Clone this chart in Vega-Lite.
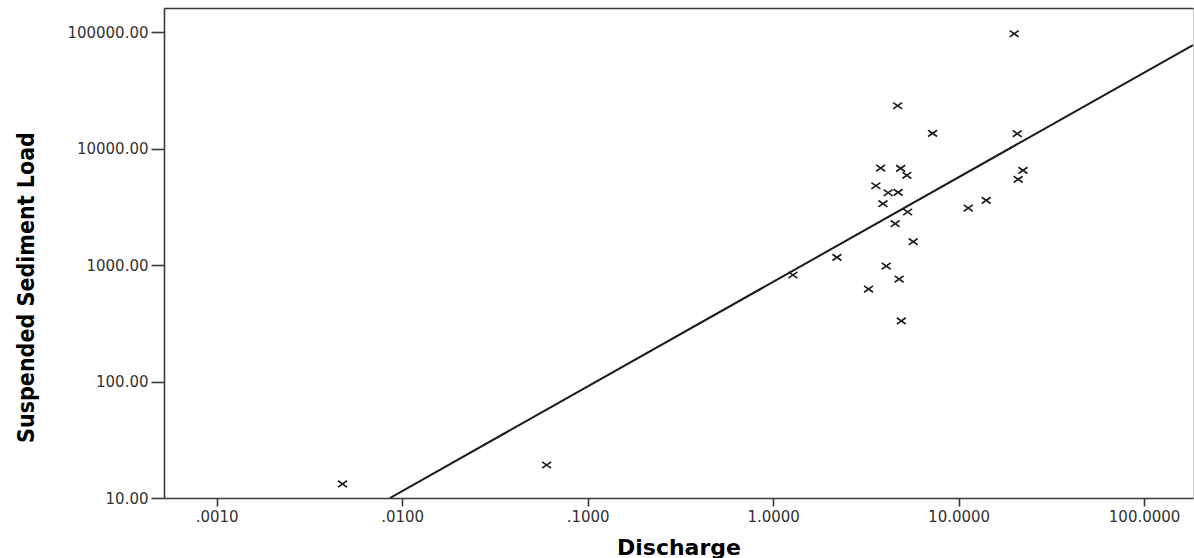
{
  "$schema": "https://vega.github.io/schema/vega-lite/v6.json",
  "width": 1029,
  "height": 490,
  "autosize": "none",
  "padding": {"left": 164, "top": 8, "right": 1, "bottom": 60},
  "background": "white",
  "config": {
    "view": {"stroke": "#c8c8c8", "strokeWidth": 1},
    "axis": {
      "grid": false,
      "domainColor": "#3a3a3a",
      "domainWidth": 1.6,
      "tickColor": "#3a3a3a",
      "tickWidth": 1.6,
      "labelFont": "DejaVu Sans",
      "labelFontSize": 15,
      "labelColor": "#333333",
      "titleColor": "#000000"
    }
  },
  "datasets": {
    "pts": [
      {"discharge": 0.00477, "load": 13.2},
      {"discharge": 0.0601, "load": 19.2},
      {"discharge": 1.279, "load": 824},
      {"discharge": 2.208, "load": 1169},
      {"discharge": 3.27, "load": 624},
      {"discharge": 3.58, "load": 4820},
      {"discharge": 3.80, "load": 6840},
      {"discharge": 3.91, "load": 3377},
      {"discharge": 4.07, "load": 984},
      {"discharge": 4.17, "load": 4196},
      {"discharge": 4.55, "load": 2274},
      {"discharge": 4.69, "load": 23450},
      {"discharge": 4.72, "load": 4228},
      {"discharge": 4.78, "load": 761},
      {"discharge": 4.87, "load": 6795},
      {"discharge": 4.91, "load": 332},
      {"discharge": 5.26, "load": 5921},
      {"discharge": 5.31, "load": 2865},
      {"discharge": 5.69, "load": 1592},
      {"discharge": 7.24, "load": 13590},
      {"discharge": 11.27, "load": 3100},
      {"discharge": 14.09, "load": 3610},
      {"discharge": 19.94, "load": 97500},
      {"discharge": 20.70, "load": 13490},
      {"discharge": 20.95, "load": 5470},
      {"discharge": 22.22, "load": 6535}
    ],
    "fit": [
      {"discharge": 0.00859, "load": 10},
      {"discharge": 183.5, "load": 77980}
    ]
  },
  "layer": [
    {
      "data": {"name": "pts"},
      "mark": {
        "type": "point",
        "shape": "M-1,-0.7L1,0.7M1,-0.7L-1,0.7",
        "size": 81,
        "filled": false,
        "stroke": "#1e1e1e",
        "strokeWidth": 1.7,
        "opacity": 1
      },
      "encoding": {
        "x": {
          "field": "discharge",
          "type": "quantitative",
          "scale": {"type": "log", "domain": [0.00052, 183.5], "nice": false},
          "axis": {
            "orient": "bottom",
            "title": "Discharge",
            "values": [0.001, 0.01, 0.1, 1, 10, 100],
            "labelExpr": "datum.value < 1 ? substring(format(datum.value, '.4f'), 1) : format(datum.value, '.4f')",
            "tickSize": 8,
            "labelPadding": 3,
            "titleFont": "DejaVu Sans",
            "titleFontSize": 22,
            "titleFontWeight": "bold",
            "titleBaseline": "middle",
            "titleY": 49
          }
        },
        "y": {
          "field": "load",
          "type": "quantitative",
          "scale": {"type": "log", "domain": [10, 162200], "nice": false},
          "axis": {
            "title": "Suspended Sediment Load",
            "values": [10, 100, 1000, 10000, 100000],
            "format": ".2f",
            "tickSize": 13,
            "labelPadding": 3,
            "titleFont": "DejaVu Sans Condensed, sans-serif",
            "titleFontSize": 23,
            "titleFontWeight": "bold",
            "titleAngle": -90,
            "titleAlign": "center",
            "titleBaseline": "middle",
            "titleX": -138,
            "titleY": 279
          }
        }
      }
    },
    {
      "data": {"name": "fit"},
      "mark": {"type": "line", "color": "#1a1a1a", "strokeWidth": 2, "clip": true},
      "encoding": {
        "x": {
          "field": "discharge",
          "type": "quantitative",
          "scale": {"type": "log", "domain": [0.00052, 183.5], "nice": false},
          "axis": {"orient": "top", "title": null, "labels": false, "ticks": false, "domainColor": "#3a3a3a", "domainWidth": 1.6}
        },
        "y": {
          "field": "load",
          "type": "quantitative",
          "scale": {"type": "log", "domain": [10, 162200], "nice": false}
        }
      }
    }
  ],
  "resolve": {"axis": {"x": "independent"}}
}
